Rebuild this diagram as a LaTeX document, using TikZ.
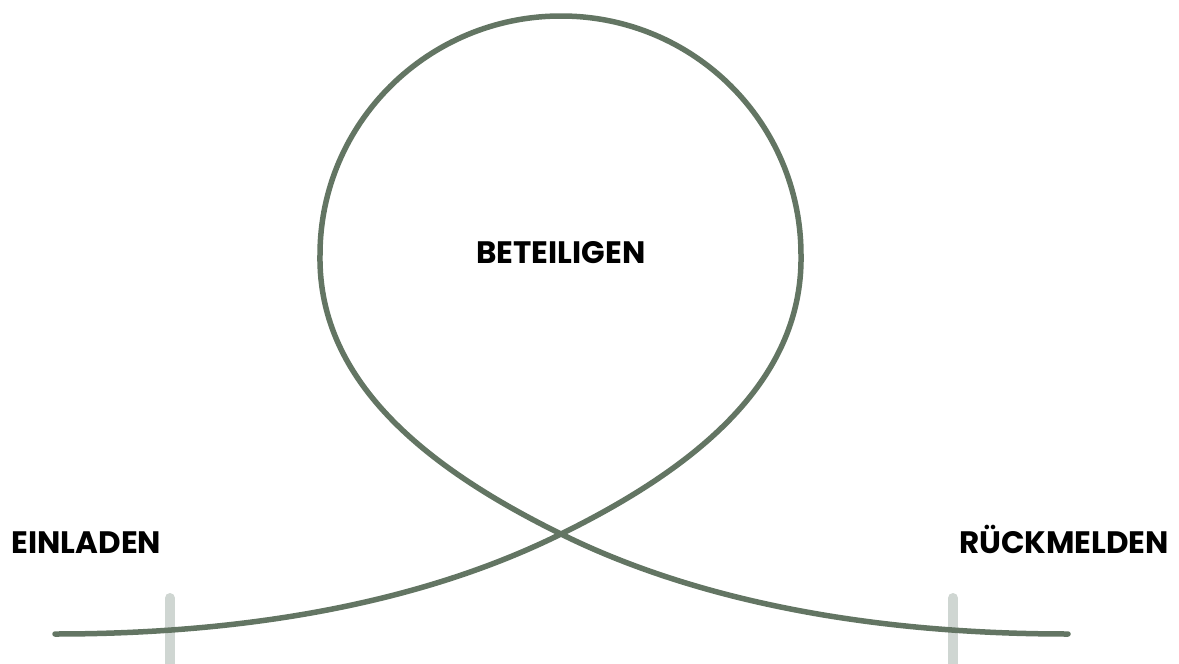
\documentclass[tikz,border=0pt]{standalone}
\usepackage{fontspec}
\setmainfont{Poppins}
\usetikzlibrary{positioning}
\definecolor{loopgreen}{RGB}{99,117,99}
\definecolor{bargrey}{RGB}{207,214,210}

\begin{document}
\begin{tikzpicture}[x=1pt,y=-1pt,
  label/.style={font=\fontsize{31}{36}\selectfont\bfseries, text=black, inner sep=0pt, anchor=base},
  loopline/.style={line width=5.5pt, loopgreen, line cap=round},
  marker/.style={line width=10pt, bargrey, line cap=round}]

\useasboundingbox (0,0) rectangle (1179,664);

%---------------------------------------
% Key points of the loop
%---------------------------------------
\def\Xmid{561}
\def\Ycross{534}

\coordinate (start)  at (55,634);
\coordinate (cross)  at (\Xmid,\Ycross);
\coordinate (right)  at (801,255);
\coordinate (top)    at (\Xmid,16);
\coordinate (left)   at (320,255);
\coordinate (finish) at (1068,634);

% Markers under the line
\coordinate (markA) at (170,598);
\coordinate (markB) at (953,598);
\draw[marker] (markA) -- (170,680);
\draw[marker] (markB) -- (953,680);

%---------------------------------------
% The loop
%---------------------------------------
\draw[loopline] (start)
    .. controls (300,634) and (460,584) .. (cross)
    .. controls (689,471) and (803,385) .. (right)
    .. controls (801,123) and (694,16) .. (top)
    .. controls (428,16) and (320,123) .. (left)
    .. controls (318,385) and (433,471) .. (cross)
    .. controls (662,584) and (824,634) .. (finish);

%---------------------------------------
% Labels
%---------------------------------------
\node[label] (einladen)   at (86.5,553)  {EINLADEN};
\node[label] (beteiligen) at (\Xmid,263) {BETEILIGEN};
\node[label] (rueck)      at (1064,553)  {RÜCKMELDEN};

\end{tikzpicture}
\end{document}
